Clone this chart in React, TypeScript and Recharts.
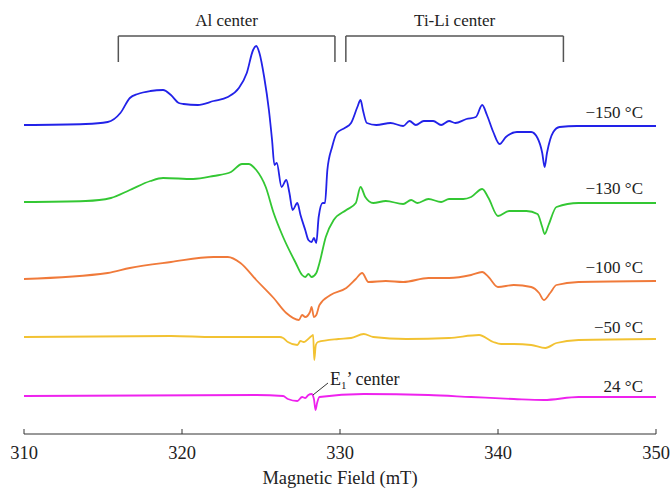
import { LineChart, Line, XAxis, YAxis, ReferenceLine, ReferenceDot } from 'recharts';

// [field (mT), intensity (a.u., baseline = 0)]
const spectrum150: [number, number][] = [
  [310, 0], [313.9, 1], [315.3, 3], [316.1, 12], [316.7, 27], [317.2, 31], [318.0, 34], [318.8, 35],
  [319.3, 30], [319.8, 22], [320.1, 21], [321.0, 20], [322.0, 24], [322.9, 28], [323.6, 37], [324.1, 52],
  [324.5, 75], [324.7, 79], [324.9, 72], [325.2, 48], [325.5, 15], [325.7, -15], [325.85, -40], [326.0, -38],
  [326.3, -62], [326.6, -55], [326.8, -68], [327.0, -85], [327.3, -78], [327.5, -90], [327.8, -105],
  [328.0, -115], [328.2, -117], [328.35, -113], [328.5, -118], [328.65, -92], [328.9, -78], [329.05, -78],
  [329.2, -45], [329.5, -22], [329.8, -8], [330.3, -3], [330.7, 2], [331.1, 18], [331.3, 25], [331.45, 15],
  [331.7, 2], [332.3, 0], [333.2, 2], [334.0, -1], [334.4, 4], [334.8, 0], [335.3, 4], [335.9, 4],
  [336.4, 0], [336.9, 4], [337.3, 2], [338.0, 6], [338.6, 8], [339.0, 20], [339.3, 10], [339.7, -7],
  [340.1, -19], [340.5, -12], [341.2, -7], [342.1, -7], [342.5, -13], [342.8, -28], [342.95, -42],
  [343.1, -28], [343.5, -7], [343.9, -2], [345.0, -1], [350, -1],
];

const spectrum130: [number, number][] = [
  [310, 1], [313.9, 2], [315.5, 5], [316.7, 13], [318.0, 22], [318.8, 25], [320.7, 24], [322.0, 27],
  [323.1, 31], [323.8, 39], [324.2, 39], [324.7, 33], [325.3, 16], [325.8, -10], [326.4, -34], [327.2, -60],
  [327.6, -72], [327.8, -74], [328.0, -71], [328.2, -74], [328.5, -70], [328.7, -60], [329.1, -34],
  [329.6, -17], [330.4, -7], [331.0, 0], [331.3, 16], [331.6, 6], [332.1, 0], [332.9, 2], [334.0, -1],
  [334.5, 3], [334.9, 0], [335.6, 4], [336.4, 1], [336.9, 4], [337.8, 4], [338.3, 6], [339.0, 14],
  [339.4, 5], [340.0, -13], [340.7, -8], [341.8, -8], [342.5, -11], [342.8, -24], [342.95, -31],
  [343.2, -22], [343.7, -4], [345.1, 0], [350, 0],
];

const spectrum100: [number, number][] = [
  [310, 0], [315.3, 6], [316.7, 11], [319.3, 17], [322.0, 22], [322.9, 22], [323.7, 16], [324.7, -1],
  [325.8, -19], [326.6, -34], [327.4, -41], [327.6, -36], [327.8, -38], [328.1, -33], [328.2, -28],
  [328.35, -38], [328.5, -36], [328.7, -26], [329.4, -16], [330.4, -9], [331.0, 0], [331.4, 6],
  [331.8, -3], [332.9, -2], [334.0, -3], [335.6, 1], [336.9, 1], [338.3, 4], [339.0, 7], [339.4, 2],
  [340.0, -8], [341.0, -6], [342.1, -8], [342.6, -14], [342.9, -21], [343.3, -14], [343.7, -6],
  [345.1, -3], [350, -2],
];

const spectrum50: [number, number][] = [
  [310, 1], [319.3, 2], [322.0, 1], [326.2, 1], [326.4, 0], [326.7, -4], [327.3, -7], [327.5, -3],
  [327.7, -4], [328.2, 2], [328.3, 3], [328.37, -22], [328.47, -7], [328.6, -4], [329.9, -1], [330.7, 0],
  [331.5, 4], [332.1, 1], [334.2, -1], [336.9, 0], [338.8, 3], [339.7, -4], [340.2, -6], [341.0, -6],
  [342.1, -7], [343.0, -10], [343.7, -5], [345.1, -2], [350, -1],
];

const spectrum24: [number, number][] = [
  [310, 0], [324.7, 1], [326.4, 0], [326.7, -3], [327.3, -5], [327.6, -1], [327.8, -2], [328.0, 1],
  [328.2, 2], [328.35, -3], [328.45, -14], [328.55, -7], [328.7, -1], [331.5, 2], [335.6, 1], [338.3, -1],
  [341.0, -3], [342.9, -4], [345.1, -1], [350, -1],
];

const temps = ['\u2212150 °C', '\u2212130 °C', '\u2212100 °C', '\u221250 °C', '24 °C'];
const offsets = [309, 231, 155, 96, 38];
const labelY = [322, 246, 167, 107, 48];
const colors = ['#2222e8', '#33c733', '#f07a3a', '#f2c232', '#ee22ee'];
const spectra = [spectrum150, spectrum130, spectrum100, spectrum50, spectrum24];
const xTicks = [310, 320, 330, 340, 350];

const font = '"Liberation Serif", "Times New Roman", serif';

const series = spectra.map((s, i) => s.map(([x, v]) => ({ x, y: v + offsets[i] })));

export default function App() {
  return (
    <div style={{ position: 'absolute', left: 0, top: 0, background: '#fff' }}>
      <LineChart width={672} height={489} margin={{ top: 0, right: 16, bottom: 0, left: 24 }}>
        <XAxis
          dataKey="x"
          type="number"
          domain={[310, 350]}
          ticks={xTicks}
          allowDataOverflow
          height={55}
          stroke="#333"
          tickSize={-5}
          tickMargin={17}
          tick={{ fill: '#222', fontSize: 18.5, fontFamily: font }}
          label={{ value: 'Magnetic Field (mT)', position: 'insideBottom', offset: 5, fill: '#222', fontSize: 18.5, fontFamily: font }}
        />
        <YAxis type="number" domain={[0, 434]} hide allowDataOverflow />

        {series.map((d, i) => (
          <Line
            key={temps[i]}
            data={d}
            dataKey="y"
            type="monotone"
            stroke={colors[i]}
            strokeWidth={1.8}
            dot={false}
            isAnimationActive={false}
          />
        ))}

        {/* brackets */}
        <ReferenceLine segment={[{ x: 315.97, y: 372 }, { x: 315.97, y: 398 }]} stroke="#555" strokeWidth={1.5} />
        <ReferenceLine
          segment={[{ x: 315.97, y: 398 }, { x: 329.68, y: 398 }]}
          stroke="#555"
          strokeWidth={1.5}
          label={{ value: 'Al center', position: 'top', offset: 10, fill: '#222', fontSize: 17, fontFamily: font }}
        />
        <ReferenceLine segment={[{ x: 329.68, y: 398 }, { x: 329.68, y: 372 }]} stroke="#555" strokeWidth={1.5} />
        <ReferenceLine segment={[{ x: 330.37, y: 372 }, { x: 330.37, y: 398 }]} stroke="#555" strokeWidth={1.5} />
        <ReferenceLine
          segment={[{ x: 330.37, y: 398 }, { x: 344.14, y: 398 }]}
          stroke="#555"
          strokeWidth={1.5}
          label={{ value: 'Ti-Li center', position: 'top', offset: 10, fill: '#222', fontSize: 17, fontFamily: font }}
        />
        <ReferenceLine segment={[{ x: 344.14, y: 398 }, { x: 344.14, y: 372 }]} stroke="#555" strokeWidth={1.5} />

        {/* E1' center */}
        <ReferenceLine segment={[{ x: 328.29, y: 39 }, { x: 329.24, y: 51 }]} stroke="#333" strokeWidth={1} />
        <ReferenceDot
          x={329.36}
          y={49}
          r={0}
          shape={(p: any) => (
            <text x={p.cx} y={p.cy} fill="#222" fontSize={18} fontFamily={font}>
              E<tspan fontSize={11} dy={4}>1</tspan>
              <tspan dy={-4}>{'\u2019 center'}</tspan>
            </text>
          )}
        />

        {temps.map((t, i) => (
          <ReferenceDot
            key={'lbl' + t}
            x={350}
            y={labelY[i]}
            r={0}
            shape={(p: any) => (
              <text x={p.cx - 13} y={p.cy} dy="0.35em" textAnchor="end" fill="#222" fontSize={17} fontFamily={font}>
                {t}
              </text>
            )}
          />
        ))}
      </LineChart>
    </div>
  );
}
